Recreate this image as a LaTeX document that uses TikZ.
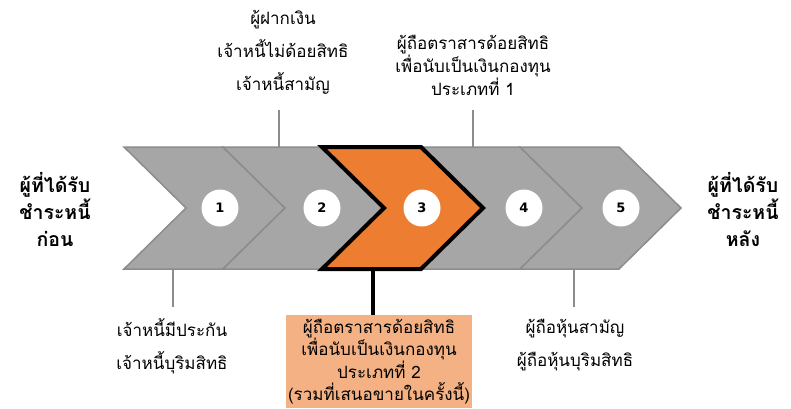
\documentclass[tikz,border=0pt]{standalone}
\usepackage{fontspec}
\setmainfont{DejaVu Sans}
\newfontfamily\thaifont[Script=Thai]{Loma}
\usetikzlibrary{shapes}
\definecolor{chevgray}{HTML}{A6A6A6}
\definecolor{chevline}{HTML}{8C8C8C}
\definecolor{hiorange}{HTML}{ED7D31}
\definecolor{boxorange}{HTML}{F4B183}
\tikzstyle{chev}=[fill=chevgray,draw=chevline,line width=1.5pt,line join=miter]
\tikzstyle{chevhi}=[fill=hiorange,draw=black,line width=4pt,line join=miter]
\tikzstyle{num}=[circle,fill=white,minimum size=37pt,inner sep=0pt,font=\bfseries\fontsize{13}{13}\selectfont]
\tikzstyle{lbl}=[align=center,font=\thaifont\fontsize{17}{23}\selectfont]
\tikzstyle{lblwide}=[align=center,font=\thaifont\fontsize{17}{33}\selectfont]
\tikzstyle{side}=[align=center,font=\thaifont\bfseries\fontsize{19.5}{27}\selectfont]
\tikzstyle{hibox}=[fill=boxorange,minimum width=186pt,minimum height=93pt,inner sep=0pt,align=center,font=\thaifont\fontsize{17}{22.3}\selectfont]
\tikzstyle{lead}=[draw=chevline,line width=1.5pt]
\tikzstyle{leadhi}=[draw=black,line width=4pt]

\begin{document}
\begin{tikzpicture}[x=1pt,y=-1pt]
	\useasboundingbox (0,0) rectangle (791,408);
	\foreach \l in {124,223,421,520}
	\draw[chev] (\l,147) -- ++(99,0) -- ++(62,61) -- ++(-62,61) -- ++(-99,0) -- ++(62,-61) -- cycle;
	\draw[chevhi] (322,147) -- ++(99,0) -- ++(62,61) -- ++(-62,61) -- ++(-99,0) -- ++(62,-61) -- cycle;
	\foreach \n/\x in {1/220,2/322,3/422,4/524,5/621}
	\node[num] (n\n) at (\x,208) {\n};
	% side labels
	\node[side] (before) at (55,210) {ผู้ที่ได้รับ\\ชำระหนี้\\ก่อน};
	\node[side] (after) at (743,210) {ผู้ที่ได้รับ\\ชำระหนี้\\หลัง};
	% labels above
	\node[lblwide] (top2) at (283,52) {ผู้ฝากเงิน\\เจ้าหนี้ไม่ด้อยสิทธิ\\เจ้าหนี้สามัญ};
	\node[lbl] (top4) at (473,65) {ผู้ถือตราสารด้อยสิทธิ\\เพื่อนับเป็นเงินกองทุน\\ประเภทที่ 1};
	\coordinate (up2) at (279,147);
	\coordinate (up2end) at (279,110);
	\coordinate (up4) at (473,147);
	\coordinate (up4end) at (473,110);
	\draw[lead] (up2) -- (up2end);
	\draw[lead] (up4) -- (up4end);
	% labels below
	\node[lblwide] (bot1) at (172,346.5) {เจ้าหนี้มีประกัน\\เจ้าหนี้บุริมสิทธิ};
	\node[hibox] (bot3) at (379,361.5) {ผู้ถือตราสารด้อยสิทธิ\\เพื่อนับเป็นเงินกองทุน\\ประเภทที่ 2\\(รวมที่เสนอขายในครั้งนี้)};
	\node[lblwide] (bot5) at (575,345) {ผู้ถือหุ้นสามัญ\\ผู้ถือหุ้นบุริมสิทธิ};
	\coordinate (dn1) at (173,269);
	\coordinate (dn1end) at (173,307);
	\coordinate (dn3) at (373,269);
	\coordinate (dn5) at (574,269);
	\coordinate (dn5end) at (574,307);
	\draw[lead] (dn1) -- (dn1end);
	\draw[leadhi] (dn3) -- (dn3 |- bot3.north);
	\draw[lead] (dn5) -- (dn5end);
\end{tikzpicture}
\end{document}
